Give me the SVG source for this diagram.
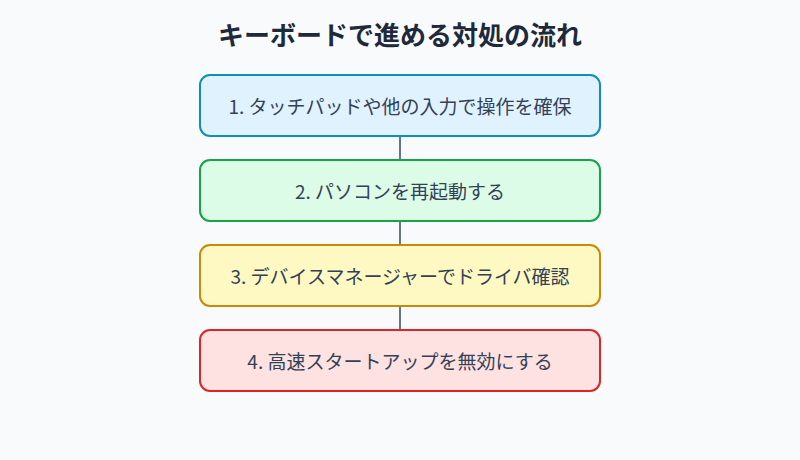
<svg xmlns="http://www.w3.org/2000/svg" width="800" height="460" viewBox="0 0 800 460">
<style>
text{font-family:"Noto Sans CJK JP","Noto Sans",sans-serif;text-anchor:middle;dominant-baseline:central}
.t{font-size:26px;font-weight:bold;fill:#1e293b}
.l{font-size:19px;fill:#334155}
rect.n{stroke-width:2}
</style>
<rect width="800" height="460" fill="#f8fafc"/>
<text class="t" x="400" y="33">キーボードで進める対処の流れ</text>
<g id="connectors" stroke="#64748b" stroke-width="2">
<line x1="400" y1="136" x2="400" y2="160"/>
<line x1="400" y1="221" x2="400" y2="245"/>
<line x1="400" y1="306" x2="400" y2="330"/>
</g>
<g id="n1"><rect class="n" x="200" y="75" width="400" height="61" rx="10" fill="#e0f2fe" stroke="#0e8fb5"/><text class="l" x="400" y="105.5">1. タッチパッドや他の入力で操作を確保</text></g>
<g id="n2"><rect class="n" x="200" y="160" width="400" height="61" rx="10" fill="#dcfce7" stroke="#16a34a"/><text class="l" x="400" y="190.5">2. パソコンを再起動する</text></g>
<g id="n3"><rect class="n" x="200" y="245" width="400" height="61" rx="10" fill="#fef9c3" stroke="#ca8a04"/><text class="l" x="400" y="275.5">3. デバイスマネージャーでドライバ確認</text></g>
<g id="n4"><rect class="n" x="200" y="330" width="400" height="61" rx="10" fill="#fee2e2" stroke="#dc2626"/><text class="l" x="400" y="360.5">4. 高速スタートアップを無効にする</text></g>
</svg>
